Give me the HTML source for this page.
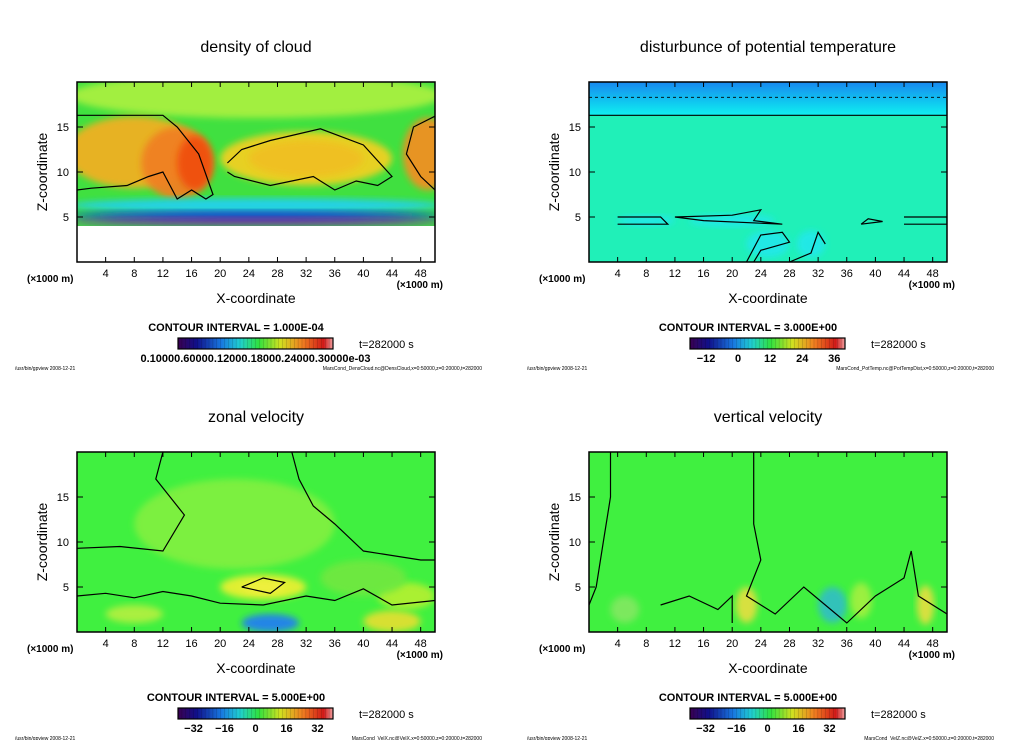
<!DOCTYPE html>
<html><head><meta charset="utf-8"><style>
body{margin:0;background:#fff;}
svg text{font-family:"Liberation Sans",sans-serif;fill:#000;}
</style></head><body>
<svg id="fig" width="1024" height="740" viewBox="0 0 1024 740" xmlns="http://www.w3.org/2000/svg">
<defs>
<filter id="bl" x="-20%" y="-20%" width="140%" height="140%"><feGaussianBlur stdDeviation="3.5"/></filter>
<linearGradient id="rainbow" x1="0" x2="1" y1="0" y2="0">
<stop offset="0" stop-color="#3a0050"/><stop offset="0.12" stop-color="#10108a"/><stop offset="0.28" stop-color="#1878e0"/><stop offset="0.4" stop-color="#20d0d0"/><stop offset="0.52" stop-color="#30e040"/><stop offset="0.66" stop-color="#d0e020"/><stop offset="0.8" stop-color="#f08020"/><stop offset="0.94" stop-color="#d01818"/><stop offset="1" stop-color="#f0a0a0"/>
</linearGradient>
<linearGradient id="ptTop" x1="0" x2="0" y1="0" y2="1">
<stop offset="0" stop-color="#1888f0"/><stop offset="0.6" stop-color="#10c8f0"/><stop offset="1" stop-color="#10f0f0"/>
</linearGradient>
<clipPath id="c1"><rect x="77" y="82" width="358" height="180"/></clipPath>
<clipPath id="c2"><rect x="589" y="82" width="358" height="180"/></clipPath>
<clipPath id="c3"><rect x="77" y="452" width="358" height="180"/></clipPath>
<clipPath id="c4"><rect x="589" y="452" width="358" height="180"/></clipPath>
</defs>
<g id="root"></g>
</svg>
<script>
const xTicks=[4,8,12,16,20,24,28,32,36,40,44,48];
const zTicks=[5,10,15];
const titles=["density of cloud","disturbunce of potential temperature","zonal velocity","vertical velocity"];
const intervals=["CONTOUR INTERVAL = 1.000E-04","CONTOUR INTERVAL = 3.000E+00","CONTOUR INTERVAL = 5.000E+00","CONTOUR INTERVAL = 5.000E+00"];
const cbLabels=[["0.10000.60000.12000.18000.24000.30000e-03"],["-12","0","12","24","36"],["-32","-16","0","16","32"],["-32","-16","0","16","32"]];
const cbMin=[-20,-18,-40,-40], cbMax=[20,40,40,40];
const footers=["MarsCond_DensCloud.nc@DensCloud,x=0:50000,z=0:20000,t=282000","MarsCond_PotTemp.nc@PotTempDist,x=0:50000,z=0:20000,t=282000","MarsCond_VelX.nc@VelX,x=0:50000,z=0:20000,t=282000","MarsCond_VelZ.nc@VelZ,x=0:50000,z=0:20000,t=282000"];
// field blobs: [x km, z km, rx km, rz km, color]
const cloudBlobs=[[25,18.5,26,2.5,"#a8f040"],[8,12.2,9.5,4,"#f0b020"],[14,11,5,4,"#f08020"],[16.5,11,2.5,3,"#f05010"],[32,11.5,12,3,"#f0d020"],[32,11.5,8,2,"#f0c020"],[49,12,3.5,4,"#f09020"],[25,6.3,26,0.8,"#20d0f0"],[25,5.2,26,0.5,"#1040e0"],[25,4.5,26,0.45,"#7020b0"]];
const ptBlobs=[[8,4.6,4,0.6,"#20e8e8"],[20,4.6,6,0.7,"#20e8e8"],[25,2,3,1.5,"#20e8e8"],[31,2,2,1.5,"#20e8e8"]];
const uBlobs=[[22,12,14,5,"#80f040"],[26,5,6,1.4,"#e8f030"],[26,5,3,0.7,"#f0f040"],[27,1,4,1,"#2080f0"],[44,1.2,4,1.2,"#e0e030"],[46,4,4,1.5,"#b0f030"],[8,2,4,1,"#b0f040"],[40,6,6,2,"#70e840"]];
const wBlobs=[[22,3,1.5,2,"#e0e040"],[47,3,1.2,2.2,"#e0e040"],[34,3,2,2,"#30c0c0"],[38,3.5,1.5,2,"#a0f040"],[5,2.5,2,1.5,"#80e860"]];
// contours in data coords
const cloudC=[[[0,8],[2,8.2],[7,8.5],[10,9.5],[12,10],[14,7],[16,8],[18,7],[19,7.5],[17,12],[14,15],[12,16.3],[0,16.3]],[[21,10],[22,9.5],[27,8.5],[30,9],[33,9.5],[36,8],[39,9],[42,8.5],[44,9.5],[40,13],[34,14.8],[27,13.5],[23,12.5],[21,11]],[[50,8],[48,9.5],[46,12],[47,15],[50,16.2]]];
const ptC=[[[0,16.3],[50,16.3]],[[4,4.2],[11,4.2],[10,5],[4,5]],[[12,5],[20,5.2],[24,5.8],[23,4.6],[27,4.2],[16,4.6],[12,5]],[[22,0],[24,3],[27,3.3],[28,2.2],[24,1.3],[23,0]],[[28,0],[31,1],[32,3.3],[33,2]],[[38,4.2],[41,4.5],[39,4.8],[38,4.2]],[[44,4.2],[50,4.2],[50,5],[44,5]]];
const uC=[[[0,9.3],[6,9.5],[12,9],[15,13],[11,17],[12,20]],[[30,20],[31,17],[33,14],[36,12],[40,9],[48,8],[50,8]],[[0,4],[4,4.3],[8,3.8],[12,4.5],[16,4],[20,3.2],[26,3],[32,4],[36,3.5],[40,4.8],[44,3],[50,3.5]],[[23,5],[26,6],[29,5.5],[27,4.3],[23,5]]];
const wC=[[[3,20],[3,15],[2,10],[1,5],[0,3]],[[23,20],[23,12],[24,8],[22,4],[26,2],[30,5],[33,3],[36,1],[40,4],[44,6],[45,9],[46,4],[50,2]],[[10,3],[14,4],[18,2.5],[20,4],[20,1]]];

const NS='http://www.w3.org/2000/svg';
const root=document.getElementById('root');
function el(tag,attrs,parent){const e=document.createElementNS(NS,tag);for(const k in attrs)e.setAttribute(k,attrs[k]);(parent||root).appendChild(e);return e;}
const panels=[[77,82],[589,82],[77,452],[589,452]];
const bgs=["#40e040","#20f0b8","#40f040","#40f040"];
const blobsets=[cloudBlobs,ptBlobs,uBlobs,wBlobs];
const contours=[cloudC,ptC,uC,wC];
panels.forEach((p,i)=>{
  const [L,T]=p, W=358, H=180;
  const sx=v=>L+v/50*W, sz=v=>T+H-v/20*H;
  const g=el('g',{});
  
  
  const t=el('text',{x:L+W/2,y:T-30,'text-anchor':'middle','font-size':16},g);t.textContent=titles[i];
  
  const f=el('g',{'clip-path':'url(#c'+(i+1)+')'},g);
  
  el('rect',{x:L,y:T,width:W,height:H,fill:bgs[i]},f);
  if(i==1){el('rect',{x:L,y:T,width:W,height:sz(16.3)-T,fill:'url(#ptTop)'},f);}
  blobsets[i].forEach(b=>{
    const e=el('ellipse',{cx:sx(b[0]),cy:sz(b[1]),rx:b[2]/50*W,ry:b[3]/20*H,fill:b[4],filter:'url(#bl)',opacity:0.95},f);
    
  });
  if(i==0){el('rect',{x:L,y:sz(4),width:W,height:sz(0)-sz(4),fill:'#fff'},f);}
  contours[i].forEach(c=>{
    const d=c.map((q,k)=>(k?'L':'M')+sx(q[0]).toFixed(1)+','+sz(q[1]).toFixed(1)).join(' ');
    const e=el('path',{d:d,fill:'none',stroke:'#000','stroke-width':1.2},f);
    
  });
  if(i==1){const e=el('line',{x1:L,x2:L+W,y1:sz(18.3),y2:sz(18.3),stroke:'#000','stroke-dasharray':'3,3','stroke-width':0.8},f);}
  el('rect',{x:L,y:T,width:W,height:H,fill:'none',stroke:'#000','stroke-width':1.5},g);
  xTicks.forEach(v=>{
    el('line',{x1:sx(v),x2:sx(v),y1:T+H,y2:T+H-5,stroke:'#000'},g);
    el('line',{x1:sx(v),x2:sx(v),y1:T,y2:T+5,stroke:'#000'},g);
    const tx=el('text',{x:sx(v),y:T+H+15,'text-anchor':'middle','font-size':11},g);tx.textContent=v;
    
  });
  zTicks.forEach(v=>{
    el('line',{x1:L,x2:L+6,y1:sz(v),y2:sz(v),stroke:'#000'},g);
    el('line',{x1:L+W,x2:L+W-6,y1:sz(v),y2:sz(v),stroke:'#000'},g);
    const tz=el('text',{x:L-8,y:sz(v)+4,'text-anchor':'end','font-size':11},g);tz.textContent=v;
    
  });
  let u=el('text',{x:L-50,y:T+H+20,'font-size':10,'font-weight':'bold'},g);u.textContent='(\u00d71000 m)';
  
  u=el('text',{x:L+W+8,y:T+H+26,'text-anchor':'end','font-size':10,'font-weight':'bold'},g);u.textContent='(\u00d71000 m)';
  
  const xt=el('text',{x:L+W/2,y:T+H+41,'text-anchor':'middle','font-size':14},g);xt.textContent='X-coordinate';
  
  const zt=el('text',{x:0,y:0,'text-anchor':'middle','font-size':14,transform:'translate('+(L-30)+','+(T+H/2)+') rotate(-90)'},g);zt.textContent='Z-coordinate';
  
  const ci=el('text',{x:L+W/2-20,y:T+H+69,'text-anchor':'middle','font-size':11,'font-weight':'bold'},g);ci.textContent=intervals[i];
  
  const cbx=L+101, cbw=155, cby=T+H+76;
  const cb=el('rect',{x:cbx,y:cby,width:cbw,height:11,fill:'url(#rainbow)',stroke:'#000','stroke-width':1.2},g);
  
  for(let k=1;k<40;k++)el('line',{x1:cbx+k*cbw/40,x2:cbx+k*cbw/40,y1:cby,y2:cby+11,stroke:'#000','stroke-opacity':0.25,'stroke-width':0.5},g);
  const tt=el('text',{x:L+282,y:T+H+86,'font-size':11},g);tt.textContent='t=282000 s';tt.setAttribute('fill','#666');
  
  const labs=cbLabels[i];
  if(i==0){const l=el('text',{x:cbx+cbw/2,y:cby+24,'text-anchor':'middle','font-size':11,'font-weight':'bold'},g);l.textContent=labs[0];}
  else labs.forEach(s=>{const v=parseFloat(s);const l=el('text',{x:cbx+(v-cbMin[i])/(cbMax[i]-cbMin[i])*cbw,y:cby+24,'text-anchor':'middle','font-size':11,'font-weight':'bold'},g);l.textContent=s.replace('-','\u2212');
    });
  const fl=el('text',{x:L-62,y:T+H+108,'font-size':5},g);fl.textContent='/usr/bin/gpview   2008-12-21';
  
  const fr=el('text',{x:L+405,y:T+H+108,'text-anchor':'end','font-size':5},g);fr.textContent=footers[i];
  
});
</script>
</body></html>
